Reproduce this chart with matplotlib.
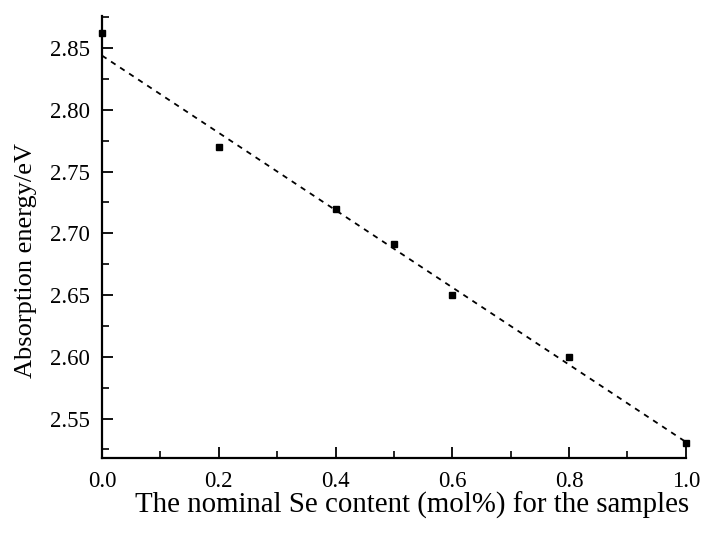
import numpy as np
import matplotlib.pyplot as plt
from matplotlib.ticker import MultipleLocator, FormatStrFormatter

# valores
se_content = [0.0, 0.2, 0.4, 0.5, 0.6, 0.8, 1.0]
energy = [2.862, 2.770, 2.720, 2.691, 2.650, 2.600, 2.530]

# recta de ajuste (extremos leidos)
fit_x = [0.0, 1.0]
fit_y = [2.844, 2.531]

plt.rcParams['font.family'] = ['Liberation Serif', 'DejaVu Serif']

fig = plt.figure(figsize=(7.02, 5.36), dpi=100)
ax = fig.add_axes([0.1453, 0.1455, 0.8317, 0.8245])

ax.plot(se_content, energy, 's', color='black', markersize=4, clip_on=False)
ax.plot(fit_x, fit_y, color='black', linestyle=(0, (3, 3)), linewidth=1.3)

ax.set_xlim(0.0, 1.0)
ax.set_ylim(2.518, 2.876)

ax.xaxis.set_major_locator(MultipleLocator(0.2))
ax.xaxis.set_minor_locator(MultipleLocator(0.1))
ax.yaxis.set_major_locator(MultipleLocator(0.05))
ax.yaxis.set_minor_locator(MultipleLocator(0.025))
ax.xaxis.set_major_formatter(FormatStrFormatter('%.1f'))
ax.yaxis.set_major_formatter(FormatStrFormatter('%.2f'))

ax.spines['top'].set_visible(False)
ax.spines['right'].set_visible(False)
ax.spines['left'].set_linewidth(1.6)
ax.spines['bottom'].set_linewidth(1.6)

ax.tick_params(which='major', direction='in', length=8, width=1.3, labelsize=16.5, pad=9)
ax.tick_params(which='minor', direction='in', length=5, width=1.2)

ax.set_xlabel('The nominal Se content (mol%) for the samples', fontsize=20.8)
ax.set_ylabel('Absorption energy/eV', fontsize=19)
ax.xaxis.set_label_coords(0.531, -0.076)
ax.yaxis.set_label_coords(-0.112, 0.448)

fig.savefig('out.png', dpi=100)
